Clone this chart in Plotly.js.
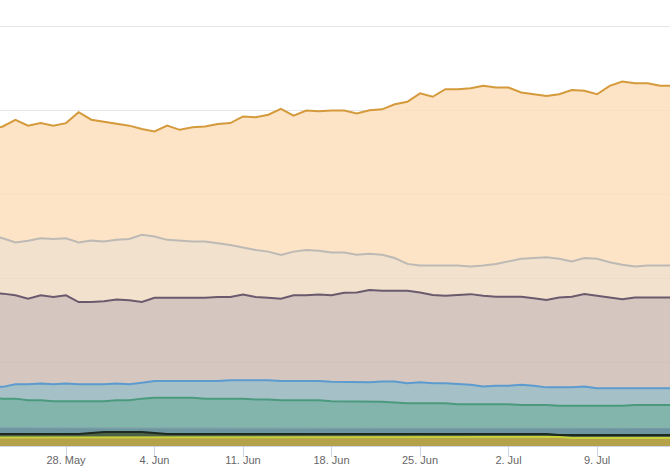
<!DOCTYPE html>
<html><head><meta charset="utf-8">
<script src="https://cdn.plot.ly/plotly-3.0.1.min.js"></script>
<style>html,body{margin:0;padding:0;background:#fff;} #chart{width:670px;height:470px;}</style>
</head><body><div id="chart"></div>
<script>
const dates = [
'2018-05-22','2018-05-23','2018-05-24','2018-05-25','2018-05-26','2018-05-27','2018-05-28','2018-05-29','2018-05-30','2018-05-31',
'2018-06-01','2018-06-02','2018-06-03','2018-06-04','2018-06-05','2018-06-06','2018-06-07','2018-06-08','2018-06-09','2018-06-10',
'2018-06-11','2018-06-12','2018-06-13','2018-06-14','2018-06-15','2018-06-16','2018-06-17','2018-06-18','2018-06-19','2018-06-20',
'2018-06-21','2018-06-22','2018-06-23','2018-06-24','2018-06-25','2018-06-26','2018-06-27','2018-06-28','2018-06-29','2018-06-30',
'2018-07-01','2018-07-02','2018-07-03','2018-07-04','2018-07-05','2018-07-06','2018-07-07','2018-07-08','2018-07-09','2018-07-10',
'2018-07-11','2018-07-12','2018-07-13','2018-07-14','2018-07-15'];

// stacked series, bottom to top
const olive = [10.1,10.1,10.1,10.1,10.1,10.1,10.1,10.1,10.1,10.1,
 10.1,10.1,10.1,10.1,10.1,10.1,10.1,10.1,10.1,10.1,
 10.1,10.1,10.1,10.1,10.1,10.1,10.1,10.1,10.1,10.1,
 10.1,10.1,10.1,10.1,10.1,10.1,10.1,10.1,
 10.7,10.7,10.7,10.7,10.7,10.7,10.7,10.7,
 9.5,9.5,9.5,9.5,9.5,9.5,9.5,9.5,9.5];
const dark = [4.2,4.2,4.2,4.2,4.2,4.2,4.2,4.2,
 5.4,6.5,6.5,6.5,6.5,5.4,
 4.2,4.2,4.2,4.2,4.2,4.2,4.2,4.2,4.2,4.2,4.2,4.2,4.2,4.2,4.2,4.2,4.2,4.2,4.2,4.2,4.2,4.2,4.2,4.2,
 3.6,3.0,3.0,3.0,3.0,3.6,3.6,2.4,
 3.6,3.6,3.6,3.6,3.6,3.6,3.6,3.6,3.6];
const slate = [7.1,7.1,7.1,7.1,7.1,7.1,7.1,7.1,6.0,4.8,4.8,4.8,4.8,6.0,
 7.1,7.1,7.1,7.1,7.1,7.1,7.1,7.1,7.1,7.1,7.1,7.1,7.1,7.1,7.1,
 6.5,6.5,6.5,6.5,6.5,6.5,6.5,6.5,6.5,6.5,
 7.1,7.1,7.1,7.1,6.5,6.5,
 7.7,7.7,7.7,7.7,7.7,7.7,7.7,7.7,7.7,7.7];
const teal = [36,35,35,33,33,32,32,32,32,32,33,33,35,36,36,36,36,35,35,35,
 35,34,34,33,33,33,33,32,32,32,32,32,31,30,30,30,30,29,29,29,
 29,29,28,28,28,27,27,27,27,27,27,28,28,28,28];
const blue = [13,14,17,19,20,20,21,20,20,20,20,19,19,20,20,20,20,21,21,22,
 22,23,23,23,23,23,23,23,23,23,23,24,25,24,25,24,24,24,23,21,
 22,22,24,23,21,22,22,23,21,21,21,20,20,20,20];
const mauve = [112,111,106,102,105,104,105,98,98,99,100,100,96,99,99,99,99,99,100,99,
 102,99,98,98,102,102,103,103,106,107,110,108,108,110,107,105,104,106,108,108,
 106,106,105,104,104,107,108,110,110,108,106,108,108,108,108];
const beige = [68,66,63,69,68,69,68,71,73,71,71,73,80,73,69,68,67,67,64,62,
 56,56,55,52,52,54,52,51,48,45,43,43,39,32,32,35,36,35,33,36,
 39,42,45,48,51,46,42,43,44,42,41,37,38,38,38];
const peach = [126,133,146,137,137,135,137,155,144,143,138,135,126,125,136,132,136,137,142,145,
 156,158,163,174,162,166,166,169,169,168,171,173,183,193,205,201,210,210,212,214,
 210,207,198,195,192,196,204,199,196,210,218,218,217,214,214];

const seriesList = [
  {name:'S1', y:olive, line:'#c8d03c', lw:2, fill:'#b3a24a'},
  {name:'S2', y:dark,  line:'#1e2a1e', lw:2, fill:'#4d6148'},
  {name:'S3', y:slate, line:'#7898a6', lw:1, fill:'rgba(74,124,136,0.8)'},
  {name:'S4', y:teal,  line:'#4b9a7e', lw:2, fill:'rgba(100,162,152,0.8)'},
  {name:'S5', y:blue,  line:'#5b9bd0', lw:2, fill:'rgba(144,176,185,0.8)'},
  {name:'S6', y:mauve, line:'#6b5a6e', lw:2, fill:'rgba(203,185,175,0.8)'},
  {name:'S7', y:beige, line:'#bdbab5', lw:2, fill:'rgba(238,218,193,0.8)'},
  {name:'S8', y:peach, line:'#d49a3c', lw:2, fill:'rgba(252,221,185,0.8)'}
];

const traces = seriesList.map(s => ({
  type:'scatter', mode:'lines', x:dates, y:s.y, name:s.name,
  stackgroup:'one', line:{color:s.line, width:s.lw, shape:'linear'},
  fillcolor:s.fill, hoverinfo:'skip'
}));

const layout = {
  width:670, height:470,
  margin:{l:0, r:0, t:24, b:24, pad:0},
  paper_bgcolor:'#fff', plot_bgcolor:'#fff',
  showlegend:false,
  xaxis:{
    type:'date', range:['2018-05-22 18:43','2018-07-14 18:30'],
    tick0:'2018-05-28', dtick:7*24*3600*1000, tickformat:'%-d. %b',
    ticks:'outside', ticklen:10, tickcolor:'#ccd6eb', tickwidth:1,
    showgrid:false, showline:true, linecolor:'#ccd6eb', linewidth:1,
    zeroline:false, ticklabelstandoff:-6,
    tickfont:{family:'Liberation Sans, Arial, sans-serif', size:11, color:'#666666'}
  },
  yaxis:{
    range:[0,502.4], dtick:100, showgrid:true, gridcolor:'#e6e6e6', gridwidth:1,
    showticklabels:false, zeroline:false, showline:false, ticks:''
  }
};

Plotly.newPlot('chart', traces, layout, {displayModeBar:false, staticPlot:true});
</script>
</body></html>
